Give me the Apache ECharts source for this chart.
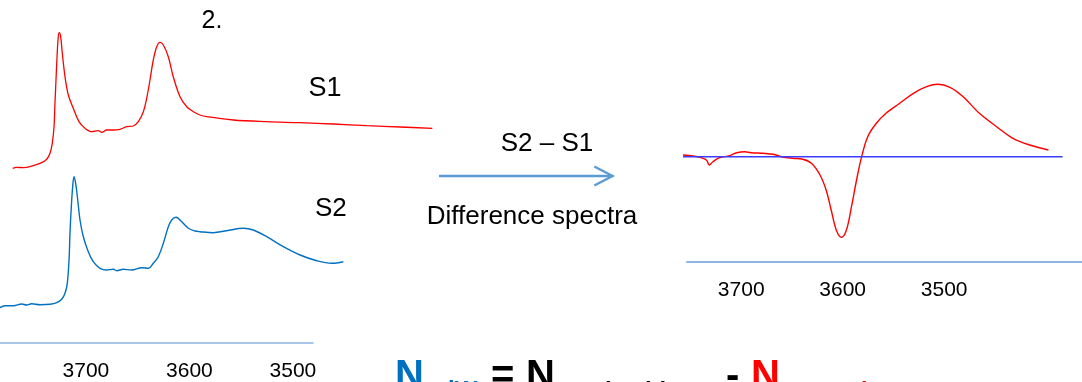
<!DOCTYPE html>
<html>
<head>
<meta charset="utf-8">
<script src="https://cdn.jsdelivr.net/npm/echarts@6/dist/echarts.min.js"></script>
<style>
html,body{margin:0;padding:0;background:#fff;}
#main{width:1082px;height:382px;}
</style>
</head>
<body>
<div id="main"></div>
<script>
// ---- Data (wavenumber cm-1, absorbance in arbitrary offset units) ----
var s1Wavenumber = [3770.7,3766.9,3760.5,3750.8,3742.7,3737.9,3734.7,3732.5,3730.8,3729.9,3728.9,3727.9,3726.7,3725.7,3724.4,3722.8,3720.2,3717,3712.2,3706.7,3700.9,3694.4,3688,3684.7,3679.9,3673.5,3667.1,3660.6,3654.2,3649.4,3644.5,3641.3,3638.1,3634.9,3631.6,3628.4,3625.2,3620.4,3615.6,3609.1,3602.6,3596.2,3589.8,3583.3,3557.6,3525.3,3493.1,3461,3428.7,3396.5,3365.3];
var s1Absorbance = [1.747,1.757,1.753,1.773,1.803,1.837,1.897,1.997,2.163,2.397,2.63,2.863,3.063,3.103,3.063,2.897,2.663,2.48,2.347,2.213,2.147,2.113,2.123,2.107,2.13,2.13,2.137,2.163,2.17,2.213,2.313,2.447,2.63,2.83,2.963,3.007,2.98,2.863,2.663,2.463,2.363,2.313,2.28,2.263,2.23,2.213,2.203,2.19,2.173,2.16,2.147];

var s2Wavenumber = [3783,3778.2,3770.1,3762,3757.2,3752.4,3744.4,3734.7,3728.2,3723.4,3720.2,3718,3716.3,3715.4,3714.1,3712.8,3711.5,3709.9,3707.9,3705.7,3702.5,3697.7,3692.9,3686.4,3679.9,3673.5,3670.2,3663.9,3655.8,3646.1,3639.7,3634.9,3630.1,3625.2,3620.4,3617.1,3612.9,3607.4,3601.1,3594.6,3589.8,3576.9,3564,3547.9,3538.3,3525.3,3509.3,3493.1,3477,3462.5,3451.3];
var s2Absorbance = [0.353,0.373,0.373,0.39,0.38,0.393,0.383,0.387,0.403,0.437,0.497,0.597,0.83,1.097,1.363,1.563,1.663,1.597,1.43,1.23,1.063,0.913,0.813,0.747,0.73,0.737,0.723,0.737,0.73,0.753,0.747,0.797,0.863,0.997,1.163,1.23,1.257,1.213,1.147,1.12,1.113,1.103,1.123,1.147,1.13,1.063,0.963,0.88,0.823,0.797,0.813];

var diffWavenumber = [3757,3747,3739,3734,3731,3727.5,3721,3711,3704,3696,3690,3678,3668,3660,3649,3639,3630.5,3622,3616,3611,3606,3601,3596,3591,3586,3581,3575,3566.5,3557,3543.5,3530,3517,3506,3494,3481,3465,3448,3432,3415.5,3397];
var diffAbsorbance = [0.017,0.007,-0.01,-0.033,-0.083,-0.05,-0.01,0.01,0.04,0.05,0.04,0.034,0.024,0,-0.016,-0.026,-0.066,-0.183,-0.333,-0.533,-0.733,-0.806,-0.733,-0.5,-0.233,0,0.2,0.334,0.434,0.534,0.634,0.70,0.724,0.694,0.6,0.434,0.30,0.184,0.117,0.067];

var zeroWavenumber = [3757,3383];
var zeroValue = [0,0];

var tickLabels = [3700,3600,3500];

// ---- Helpers ----
function pairs(xs, ys){ return xs.map(function(x,i){ return [x, ys[i]]; }); }

var FONT = 'Liberation Sans, Arial, sans-serif';
var AXIS_BLUE = '#8DB4E2';

function hiddenX(gi, min, max){
  return {gridIndex:gi, type:'value', min:min, max:max, inverse:true, show:false};
}
function hiddenY(gi, min, max){
  return {gridIndex:gi, type:'value', min:min, max:max, show:false};
}
function labelX(gi, min, max, lw){
  return {
    gridIndex:gi, type:'value', min:min, max:max, inverse:true, position:'bottom',
    axisLine:{show:true, lineStyle:{color:AXIS_BLUE, width:lw}},
    axisTick:{show:false},
    splitLine:{show:false},
    axisLabel:{customValues:tickLabels, color:'#000', fontSize:21, fontFamily:FONT, margin:18,
      formatter:function(v){ return String(v); }}
  };
}
function lineSeries(xi, yi, data, color, width){
  return {type:'line', xAxisIndex:xi, yAxisIndex:yi, data:data, showSymbol:false, symbol:'none',
    smooth:0.35, lineStyle:{color:color, width:width}, silent:true, animation:false};
}

var chart = echarts.init(document.getElementById('main'), null, {renderer:'canvas'});

function txt(x, y, text, size, color, align, weight){
  return {type:'text', x:x, y:y, silent:true,
    style:{text:text, fontSize:size, fontFamily:FONT, fill:color||'#000', align:align||'left',
      verticalAlign:'middle', fontWeight:weight||'normal'}};
}

var option = {
  animation:false,
  backgroundColor:'#fff',
  grid:[
    {left:0, top:0, width:433.7, height:343},       // left spectra
    {left:0, top:342, width:313, height:1},          // left axis
    {left:683, top:56.7, width:398.9, height:200},   // difference spectrum
    {left:687, top:260.7, width:395, height:1}       // right axis
  ],
  xAxis:[
    hiddenX(0, 3364, 3783),
    labelX(1, 3480.6, 3783, 1.5),
    hiddenX(2, 3364, 3757),
    labelX(3, 3364.2, 3753.4, 2)
  ],
  yAxis:[
    hiddenY(0, 0, 3.43),
    hiddenY(1, 0, 1),
    hiddenY(2, -1, 1),
    hiddenY(3, 0, 1)
  ],
  series:[
    lineSeries(0, 0, pairs(s1Wavenumber, s1Absorbance), '#FF0000', 1.3),
    lineSeries(0, 0, pairs(s2Wavenumber, s2Absorbance), '#0070C0', 1.4),
    lineSeries(2, 2, pairs(diffWavenumber, diffAbsorbance), '#FF0000', 1.4),
    {type:'line', xAxisIndex:2, yAxisIndex:2, data:pairs(zeroWavenumber, zeroValue), showSymbol:false,
      symbol:'none', lineStyle:{color:'#3C3CFF', width:1.5}, silent:true, animation:false}
  ],
  graphic:[
    txt(212, 21.5, '2.', 25, '#000', 'center'),
    txt(308.5, 89, 'S1', 27),
    txt(315, 209, 'S2', 26),
    txt(547, 143.5, 'S2 \u2013 S1', 26, '#000', 'center'),
    txt(532, 216.5, 'Difference spectra', 26, '#000', 'center'),
    {type:'group', silent:true, children:[
      {type:'line', shape:{x1:439, y1:176, x2:612, y2:176}, style:{stroke:'#5B9BD5', lineWidth:2.5}},
      {type:'polyline', shape:{points:[[594.3,166.5],[612.5,176],[594.3,185.5]]}, style:{stroke:'#5B9BD5', lineWidth:2.5, fill:null}}
    ]},
    // formula (cut off at the bottom edge)
    txt(395, 376.5, 'N', 40, '#0070C0', 'left', 'bold'),
    txt(440, 391, 'dW', 24, '#0070C0', 'left', 'bold'),
    txt(491, 376.5, '=', 40, '#000', 'left', 'bold'),
    txt(526, 376.5, 'N', 40, '#000', 'left', 'bold'),
    txt(556, 392, 'Total acid', 24, '#000', 'left', 'bold'),
    txt(726, 376.5, '-', 40, '#000', 'left', 'bold'),
    txt(751, 376.5, 'N', 40, '#FF0000', 'left', 'bold'),
    txt(781, 392, 'H-Bond', 24, '#FF0000', 'left', 'bold')
  ]
};
chart.setOption(option);
</script>
</body>
</html>
